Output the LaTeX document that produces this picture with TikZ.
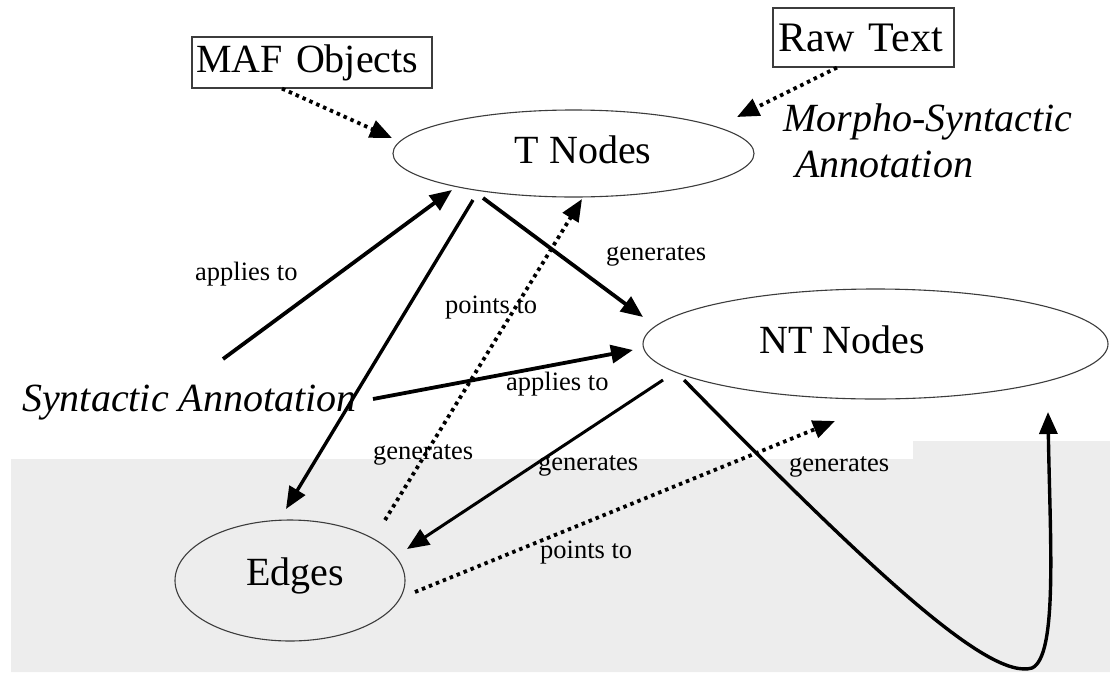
\documentclass[tikz,border=0pt]{standalone}
\usepackage{fontspec}
\setmainfont{Liberation Serif}
\usetikzlibrary{arrows.meta,calc,shapes.geometric}
\definecolor{bggray}{RGB}{237,237,237}
\definecolor{edgegray}{RGB}{60,60,60}
\begin{document}
\begin{tikzpicture}[x=1pt,y=-1pt,
  ell/.style={draw=edgegray, line width=1.1pt, ellipse, inner sep=0pt},
  boxnode/.style={draw=edgegray, line width=1.2pt, rectangle, align=left, font=\fontsize{40}{46}\selectfont},
  big/.style={font=\fontsize{40}{46}\selectfont},
  ital/.style={font=\fontsize{40}{46}\selectfont\itshape, inner sep=0pt},
  small/.style={font=\fontsize{26.5}{30}\selectfont, inner sep=0pt, anchor=base west},
  conn/.style={line width=3.8pt, -{Triangle[length=22pt,width=18pt]}},
  dotconn/.style={line width=3.8pt, dash pattern=on 3.5pt off 4pt, -{Triangle[length=22pt,width=18pt]}},
]
\useasboundingbox (0,0) rectangle (1110,672);
\fill[white] (0,0) rectangle (1110,672);
\fill[bggray] (11,459) -- (913,459) -- (913,441) -- (1110,441) -- (1110,672) -- (11,672) -- cycle;

% nodes
\node[boxnode, text width=232pt, inner xsep=4pt, minimum height=51pt] (maf) at (312,62.5) {MAF Objects};
\node[boxnode, font=\fontsize{42}{48}\selectfont, text width=171pt, inner xsep=5pt, minimum height=59pt] (raw) at (863.5,37.5) {Raw Text};
\node[ell, minimum width=361pt, minimum height=87pt,
  label={[big, xshift=9.5pt, yshift=4pt]center:T Nodes}] (tn) at (573.5,153.5) {};
\node[ell, minimum width=465pt, minimum height=110pt,
  label={[big, xshift=-33.5pt, yshift=4.5pt]center:NT Nodes}] (nt) at (875.5,344) {};
\node[ell, minimum width=230pt, minimum height=121pt,
  label={[big, xshift=5pt, yshift=4.8pt]center:Edges}] (ed) at (290,580.5) {};
\node[ital, anchor=base west] (syn) at (22,411) {Syntactic Annotation};
\node[ital, anchor=north west, align=left] (morph) at (783,104) {Morpho-Syntactic\\\hspace*{12pt}Annotation};

% labels
\node[small] (l1) at (195,280) {applies to};
\node[small] (l2) at (445,313) {points to};
\node[small] (l3) at (606,260) {generates};
\node[small] (l4) at (506,390) {applies to};
\node[small] (l5) at (373,459) {generates};
\node[small] (l6) at (538,470) {generates};
\node[small] (l7) at (789,471) {generates};
\node[small] (l8) at (540,558) {points to};

% connectors
\draw[dotconn] ($(maf.south)+(-30,0)$) -- ($(tn)+(-181.5,-15.5)$);
\draw[dotconn] ($(raw.south)+(-26.5,0)$) -- ($(tn)+(163.5,-36.5)$);
\draw[conn] ($(syn.base west)+(201,-52)$) -- ($(tn)+(-121.5,36.5)$);
\draw[conn, line width=3.4pt] ($(tn)+(-100.5,46.5)$) -- ($(ed)+(-4,-71.5)$);
\draw[conn] ($(tn)+(-90.5,44.5)$) -- ($(nt)+(-232.5,-27)$);
\draw[dotconn] ($(ed)+(95,-60.5)$) -- ($(tn)+(8.5,45.5)$);
\draw[conn] ($(syn.base west)+(351,-12)$) -- ($(nt)+(-242.5,6)$);
\draw[conn, line width=3pt] ($(nt)+(-212.5,36)$) -- ($(ed)+(117,-31.5)$);
\draw[dotconn] ($(ed)+(125,11.5)$) -- ($(nt)+(-40.5,77)$);
\draw[conn, line width=3.4pt] ($(nt)+(-191.5,36)$) .. controls (880,580) and (990,680) .. (1032,668)
  .. controls (1058,656) and (1050,540) .. ($(nt)+(172.5,68)$);
\end{tikzpicture}
\end{document}
